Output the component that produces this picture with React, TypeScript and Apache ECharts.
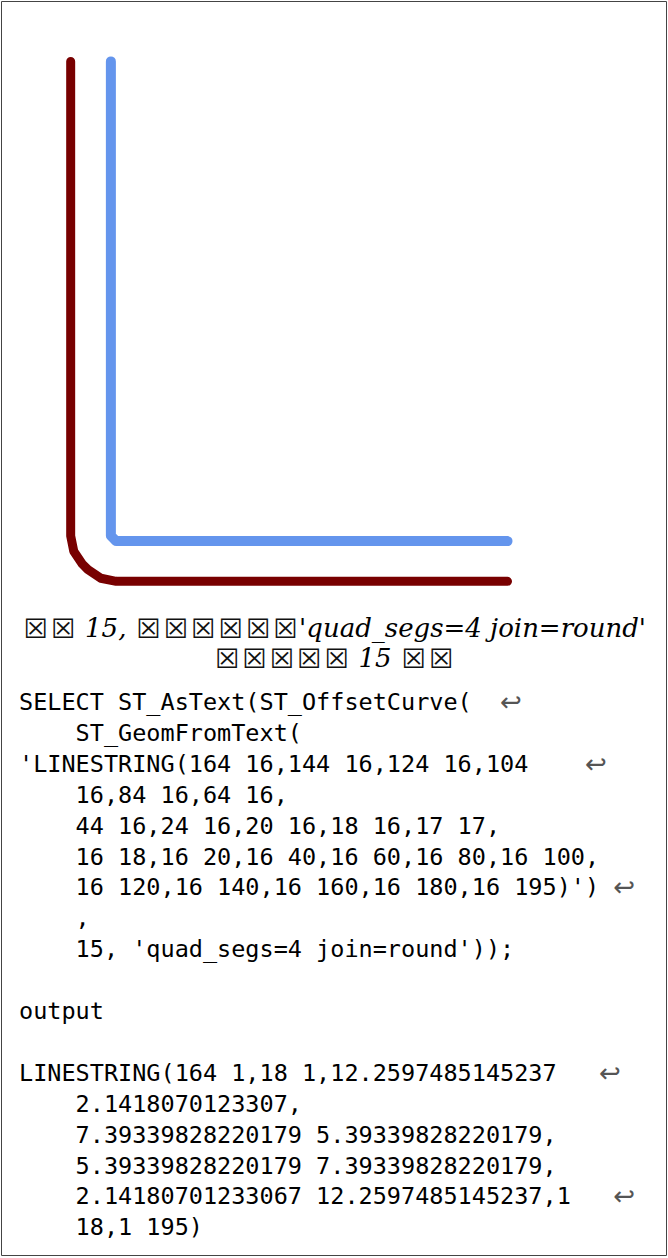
import React, { useEffect, useRef } from "react";
import * as echarts from "echarts";

// Original line (blue) and its offset curve (dark red), in the figure's own units
const originalX = [164, 144, 124, 104, 84, 64, 44, 24, 20, 18, 17, 16, 16, 16, 16, 16, 16, 16, 16, 16, 16, 16];
const originalY = [16, 16, 16, 16, 16, 16, 16, 16, 16, 16, 17, 18, 20, 40, 60, 80, 100, 120, 140, 160, 180, 195];
const offsetX = [164, 18, 12.2597485145237, 7.39339828220179, 5.39339828220179, 2.14180701233067, 1, 1];
const offsetY = [1, 1, 2.1418070123307, 5.39339828220179, 7.39339828220179, 12.2597485145237, 18, 195];

const captionLines = [
  "☒☒ 15, ☒☒☒☒☒☒'quad_segs=4 join=round'",
  "☒☒☒☒☒ 15 ☒☒",
];

const codeLines = [
  "SELECT ST_AsText(ST_OffsetCurve(  ↩",
  "    ST_GeomFromText(",
  "'LINESTRING(164 16,144 16,124 16,104    ↩",
  "    16,84 16,64 16,",
  "    44 16,24 16,20 16,18 16,17 17,",
  "    16 18,16 20,16 40,16 60,16 80,16 100,",
  "    16 120,16 140,16 160,16 180,16 195)') ↩",
  "    ,",
  "    15, 'quad_segs=4 join=round'));",
  "",
  "output",
  "",
  "LINESTRING(164 1,18 1,12.2597485145237   ↩",
  "    2.1418070123307,",
  "    7.39339828220179 5.39339828220179,",
  "    5.39339828220179 7.39339828220179,",
  "    2.14180701233067 12.2597485145237,1   ↩",
  "    18,1 195)",
];

function captionRich(t: string) {
  return t.replace(/☒/g, "{b|☒}");
}
function codeRich(t: string) {
  return t.replace(/↩/g, "{a|↩}");
}

export default function App() {
  const ref = useRef<HTMLDivElement>(null);

  useEffect(() => {
    if (!ref.current) return;
    const chart = echarts.init(ref.current, null, { renderer: "svg" });

    const original = originalX.map((x, i) => [x, originalY[i]]);
    const offset = offsetX.map((x, i) => [x, offsetY[i]]);

    const graphic: any[] = [
      {
        type: "rect",
        shape: { x: 1.5, y: 1.5, width: 665, height: 1254 },
        style: { fill: "none", stroke: "#444", lineWidth: 1 },
        silent: true,
      },
      {
        type: "text",
        x: 334,
        y: 643,
        style: {
          text: captionLines.map(captionRich).join("\n"),
          fill: "#000",
          fontFamily: "DejaVu Serif",
          fontStyle: "italic",
          fontSize: 26,
          lineHeight: 30,
          align: "center",
          verticalAlign: "middle",
          rich: {
            b: {
              fontFamily: "DejaVu Sans",
              fontStyle: "normal",
              fontSize: 27,
              lineHeight: 30,
              padding: [0, 1.6],
              fill: "#111",
            },
          },
        },
      },
    ];
    codeLines.forEach((t, i) => {
      if (!t) return;
      graphic.push({
        type: "text",
        x: 19,
        y: 702 + i * 30.9,
        style: {
          text: codeRich(t),
          fill: "#000",
          fontFamily: "DejaVu Sans Mono",
          fontSize: 23.5,
          lineHeight: 28,
          align: "left",
          verticalAlign: "middle",
          rich: {
            a: {
              fontFamily: "DejaVu Sans",
              fontSize: 26,
              lineHeight: 28,
              fill: "#555",
            },
          },
        },
      });
    });

    chart.setOption({
      animation: false,
      backgroundColor: "#fff",
      grid: { left: 68, top: 48, width: 536, height: 536 },
      xAxis: { type: "value", min: 0, max: 200, show: false },
      yAxis: { type: "value", min: 0, max: 200, show: false },
      series: [
        {
          name: "original",
          type: "line",
          data: original,
          showSymbol: false,
          symbol: "none",
          lineStyle: { color: "#6495ED", width: 10, cap: "round", join: "round" },
          silent: true,
        },
        {
          name: "offset 15",
          type: "line",
          data: offset,
          showSymbol: false,
          symbol: "none",
          lineStyle: { color: "#780000", width: 9, cap: "round", join: "round" },
          silent: true,
        },
      ],
      graphic,
    });

    return () => chart.dispose();
  }, []);

  return (
    <div
      ref={ref}
      style={{ position: "absolute", left: 0, top: 0, width: 668, height: 1258 }}
    />
  );
}
